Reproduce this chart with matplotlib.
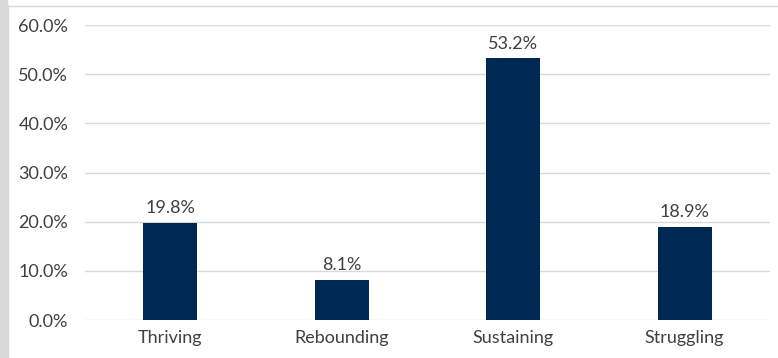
import matplotlib.pyplot as plt
import numpy as np
from matplotlib.patches import Rectangle
from matplotlib.lines import Line2D

categories = ["Thriving", "Rebounding", "Sustaining", "Struggling"]
shares = [19.8, 8.1, 53.2, 18.9]
y_ticks = [0, 10, 20, 30, 40, 50, 60]

plt.rcParams['font.family'] = ['Lato', 'DejaVu Sans']
text_color = "#404040"
bar_color = "#002855"

fig = plt.figure(figsize=(7.78, 3.58), dpi=100)
ax = fig.add_axes([0.109, 0.106, 0.881, 0.824])

# frame around the chart area
fig.patches.append(Rectangle((0, 0), 7 / 778, 1, transform=fig.transFigure,
                             color="#d9d9d9", zorder=0))
fig.lines.append(Line2D([8 / 778, 8 / 778], [0, 1 - 6 / 358], transform=fig.transFigure,
                        color="#d9d9d9", lw=1))
fig.lines.append(Line2D([8 / 778, 1], [1 - 6 / 358, 1 - 6 / 358], transform=fig.transFigure,
                        color="#d9d9d9", lw=1))

x = np.arange(len(categories))
bars = ax.bar(x, shares, width=0.315, color=bar_color, zorder=3)
for b, v in zip(bars, shares):
    ax.text(b.get_x() + b.get_width() / 2, v + 1.4, f"{v:.1f}%", ha="center", va="bottom",
            fontsize=13, color=text_color)

ax.set_xlim(-0.5, len(categories) - 0.5)
ax.set_ylim(0, 60)
ax.set_yticks(y_ticks)
ax.set_yticklabels([f"{t:.1f}%" for t in y_ticks])
ax.set_xticks(x)
ax.set_xticklabels(categories)
ax.grid(axis="y", color="#d9d9d9", lw=1, zorder=0)
for s in ax.spines.values():
    s.set_visible(False)
ax.tick_params(length=0, labelsize=13, colors=text_color)
ax.tick_params(axis="y", pad=12)
ax.tick_params(axis="x", pad=7)

fig.savefig("out.png", dpi=100)
